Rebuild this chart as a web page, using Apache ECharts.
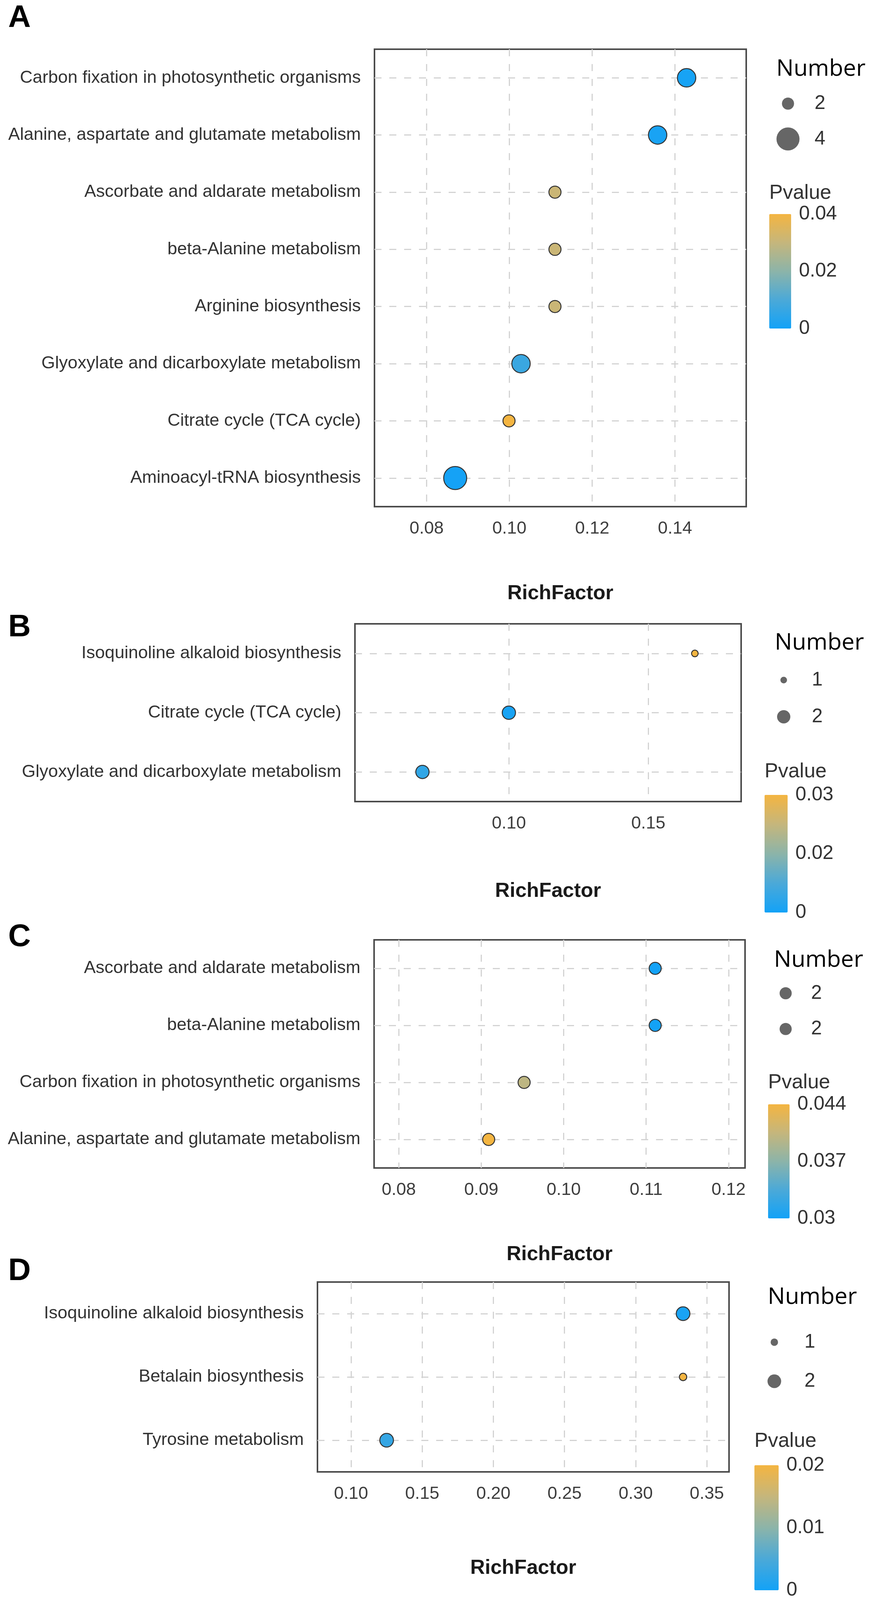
<!DOCTYPE html>
<html>
<head>
<meta charset="utf-8">
<script src="https://cdn.jsdelivr.net/npm/echarts@6/dist/echarts.min.js"></script>
<style>
html, body { margin: 0; padding: 0; background: #fff; overflow: hidden; }
#chart { width: 2228px; height: 4264px; }
</style>
</head>
<body>
<div id="chart"></div>
<script>
// ---- data ----
// A
var catsA = ["Carbon fixation in photosynthetic organisms", "Alanine, aspartate and glutamate metabolism",
    "Ascorbate and aldarate metabolism", "beta-Alanine metabolism", "Arginine biosynthesis",
    "Glyoxylate and dicarboxylate metabolism", "Citrate cycle (TCA cycle)", "Aminoacyl-tRNA biosynthesis"];
var richA = [0.1428, 0.1358, 0.1110, 0.1110, 0.1110, 0.1028, 0.0999, 0.0869];
var numA = [3, 3, 2, 2, 2, 3, 2, 4];
var pA = [0.0008, 0.0010, 0.031, 0.031, 0.031, 0.007, 0.040, 0.0004];
var breaksA = [2, 4];
var xTicksA = [0.08, 0.10, 0.12, 0.14];
var pTicksA = ["0", "0.02", "0.04"];
// B
var catsB = ["Isoquinoline alkaloid biosynthesis", "Citrate cycle (TCA cycle)", "Glyoxylate and dicarboxylate metabolism"];
var richB = [0.1667, 0.1000, 0.0690];
var numB = [1, 2, 2];
var pB = [0.030, 0.0008, 0.004];
var breaksB = [1, 2];
var xTicksB = [0.10, 0.15];
var pTicksB = ["0", "0.02", "0.03"];
// C
var catsC = ["Ascorbate and aldarate metabolism", "beta-Alanine metabolism",
    "Carbon fixation in photosynthetic organisms", "Alanine, aspartate and glutamate metabolism"];
var richC = [0.1111, 0.1111, 0.0952, 0.0909];
var numC = [2, 2, 2, 2];
var pC = [0.0300, 0.0300, 0.0400, 0.0440];
var breaksC = [2, 2];
var xTicksC = [0.08, 0.09, 0.10, 0.11, 0.12];
var pTicksC = ["0.03", "0.037", "0.044"];
// D
var catsD = ["Isoquinoline alkaloid biosynthesis", "Betalain biosynthesis", "Tyrosine metabolism"];
var richD = [0.3333, 0.3333, 0.1250];
var numD = [2, 1, 2];
var pD = [0.0005, 0.020, 0.003];
var breaksD = [1, 2];
var xTicksD = [0.10, 0.15, 0.20, 0.25, 0.30, 0.35];
var pTicksD = ["0", "0.01", "0.02"];

var panels = [
    { letter: "A", cats: catsA, rich: richA, num: numA, p: pA, breaks: breaksA, xTicks: xTicksA, pTicks: pTicksA, pRange: [0, 0.04], xRange: [0.0674, 0.1572] },
    { letter: "B", cats: catsB, rich: richB, num: numB, p: pB, breaks: breaksB, xTicks: xTicksB, pTicks: pTicksB, pRange: [0, 0.03], xRange: [0.0448, 0.1833] },
    { letter: "C", cats: catsC, rich: richC, num: numC, p: pC, breaks: breaksC, xTicks: xTicksC, pTicks: pTicksC, pRange: [0.03, 0.044], xRange: [0.0770, 0.1220] },
    { letter: "D", cats: catsD, rich: richD, num: numD, p: pD, breaks: breaksD, xTicks: xTicksD, pTicks: pTicksD, pRange: [0, 0.02], xRange: [0.0764, 0.3656] }
];

// ---- layout, in reference pixels (2228 x 4264) ----
var layouts = [
    { box: [959, 131, 952, 1219], nameGap: 205, letterY: 49, size: [31, 59],
      leg: { cx: 2018, y1: 276, step: 94, gap: 48 }, numTitle: [1988, 184], pTitle: [1970, 515], bar: [1970, 570, 56, 305] },
    { box: [909, 1662, 989, 474], nameGap: 212, letterY: 1673, size: [17, 34],
      leg: { cx: 2007, y1: 1812, step: 98, gap: 52 }, numTitle: [1984, 1713], pTitle: [1958, 2057], bar: [1958, 2118, 59, 313] },
    { box: [958, 2505, 950, 608], nameGap: 204, letterY: 2498, size: [31, 31],
      leg: { cx: 2012, y1: 2647, step: 95, gap: 45 }, numTitle: [1982, 2559], pTitle: [1967, 2886], bar: [1967, 2943, 55, 304] },
    { box: [813, 3417, 1054, 506], nameGap: 230, letterY: 3389, size: [19, 35],
      leg: { cx: 1983, y1: 3577, step: 104, gap: 57 }, numTitle: [1966, 3457], pTitle: [1932, 3841], bar: [1932, 3905, 62, 333] }
];

// the window may show less than 4264px of height: squeeze vertically to fit
var H = Math.min(4264, window.innerHeight || 4264);
var SY = H / 4264;
function Y(v) { return Math.round(v * SY); }
document.getElementById("chart").style.height = H + "px";

var FONT = "'Liberation Sans', Arial, sans-serif";
var pColors = ["#13a2f7", "#4ba9d8", "#8cb4a9", "#c5b67c", "#f4b541"];
var gridDash = { color: "#d3d3d3", width: 3, type: [18, 20] };

// area-proportional size scale like ggplot's scale_size
function sizeScale(breaks, dMin, dMax) {
    var lo = Math.min.apply(null, breaks), hi = Math.max.apply(null, breaks);
    return function (n) {
        if (hi === lo) return dMax;
        var t = (n - lo) / (hi - lo);
        return Math.sqrt(dMin * dMin + t * (dMax * dMax - dMin * dMin));
    };
}

var grid = [], xAxis = [], yAxis = [], series = [], visualMap = [], graphic = [];

panels.forEach(function (d, i) {
    var L = layouts[i];
    var sz = sizeScale(d.breaks, L.size[0], L.size[1]);
    var cats = d.cats;
    var rows = cats.map(function (c, k) { return k; });

    // main plot
    var g = grid.length;
    grid.push({ left: L.box[0], top: Y(L.box[1]), width: L.box[2], height: Y(L.box[3]), show: true,
        borderColor: "#4a4a4a", borderWidth: 4, backgroundColor: "transparent", outerBoundsMode: "none", containLabel: false });
    xAxis.push({
        gridIndex: g, type: "value", min: d.xRange[0], max: d.xRange[1],
        axisLine: { show: false, onZero: false }, axisTick: { show: false, customValues: d.xTicks },
        axisLabel: { margin: Y(35), fontSize: 45, color: "#3d3d3d", fontFamily: FONT, customValues: d.xTicks,
            formatter: function (v) { return v.toFixed(2); } },
        splitLine: { show: true, lineStyle: gridDash },
        name: "RichFactor", nameLocation: "middle", nameGap: Y(L.nameGap),
        nameTextStyle: { fontSize: 52, fontWeight: "bold", color: "#1a1a1a", fontFamily: FONT }
    });
    yAxis.push({
        gridIndex: g, type: "value", inverse: true, min: -0.5, max: cats.length - 0.5,
        axisLine: { show: false, onZero: false }, axisTick: { show: false, customValues: rows },
        axisLabel: { margin: 35, fontSize: 45, color: "#333", fontFamily: FONT, customValues: rows,
            formatter: function (v) {
                var k = Math.round(v);
                return Math.abs(v - k) < 1e-6 && cats[k] !== undefined ? cats[k] : "";
            } },
        splitLine: { show: true, lineStyle: gridDash }
    });
    var sIdx = series.length;
    series.push({
        type: "scatter", xAxisIndex: g, yAxisIndex: g, z: 3, silent: true,
        data: d.rich.map(function (r, k) { return [r, k, d.p[k], d.num[k]]; }),
        symbolSize: function (v) { return sz(v[3]); },
        itemStyle: { borderColor: "#333", borderWidth: 2.5, opacity: 1 },
        emphasis: { disabled: true }
    });
    visualMap.push({
        type: "continuous", seriesIndex: sIdx, dimension: 2, min: d.pRange[0], max: d.pRange[1],
        calculable: false, hoverLink: false, padding: 0,
        left: L.bar[0], top: Y(L.bar[1]), itemWidth: L.bar[2], itemHeight: Y(L.bar[3]),
        inRange: { color: pColors }
    });

    // size legend ("Number")
    var gl = grid.length;
    grid.push({ left: L.leg.cx - 20, top: Y(L.leg.y1 - L.leg.step / 2), width: 40, height: Y(L.leg.step * d.breaks.length),
        outerBoundsMode: "none", containLabel: false });
    xAxis.push({ gridIndex: gl, type: "value", min: 0, max: 1, show: false });
    yAxis.push({
        gridIndex: gl, type: "category", inverse: true, position: "right",
        data: d.breaks.map(function (b) { return String(b); }),
        axisLine: { show: false }, axisTick: { show: false }, splitLine: { show: false },
        axisLabel: { margin: L.leg.gap, fontSize: 50, color: "#333", fontFamily: FONT }
    });
    series.push({
        type: "scatter", xAxisIndex: gl, yAxisIndex: gl, silent: true,
        data: d.breaks.map(function (b, k) { return [0.5, k, b]; }),
        symbolSize: function (v) { return sz(v[2]); },
        itemStyle: { color: "#666", opacity: 1 }
    });

    // colorbar labels ("Pvalue")
    var gc = grid.length;
    grid.push({ left: L.bar[0], top: Y(L.bar[1]), width: L.bar[2], height: Y(L.bar[3]), outerBoundsMode: "none", containLabel: false });
    xAxis.push({ gridIndex: gc, type: "value", min: 0, max: 1, show: false });
    yAxis.push({
        gridIndex: gc, type: "category", boundaryGap: false, position: "right", data: d.pTicks,
        axisLine: { show: false }, axisTick: { show: false }, splitLine: { show: false },
        axisLabel: { margin: 20, fontSize: 50, color: "#333", fontFamily: FONT, interval: 0 }
    });

    // titles
    graphic.push({ type: "text", x: 21, y: Y(L.letterY),
        style: { text: d.letter, font: "bold 80px " + FONT, fill: "#000", align: "left", verticalAlign: "middle" } });
    graphic.push({ type: "text", x: L.numTitle[0], y: Y(L.numTitle[1]),
        style: { text: "Number", font: "59px 'Open Sans', 'Noto Sans', sans-serif", fill: "#000", align: "left", verticalAlign: "middle" } });
    graphic.push({ type: "text", x: L.pTitle[0], y: Y(L.pTitle[1]),
        style: { text: "Pvalue", font: "52px " + FONT, fill: "#333", align: "left", verticalAlign: "middle" } });
});

var chart = echarts.init(document.getElementById("chart"));
chart.setOption({
    animation: false,
    backgroundColor: "#fff",
    textStyle: { fontFamily: FONT },
    grid: grid,
    xAxis: xAxis,
    yAxis: yAxis,
    visualMap: visualMap,
    series: series,
    graphic: graphic
});
</script>
</body>
</html>
